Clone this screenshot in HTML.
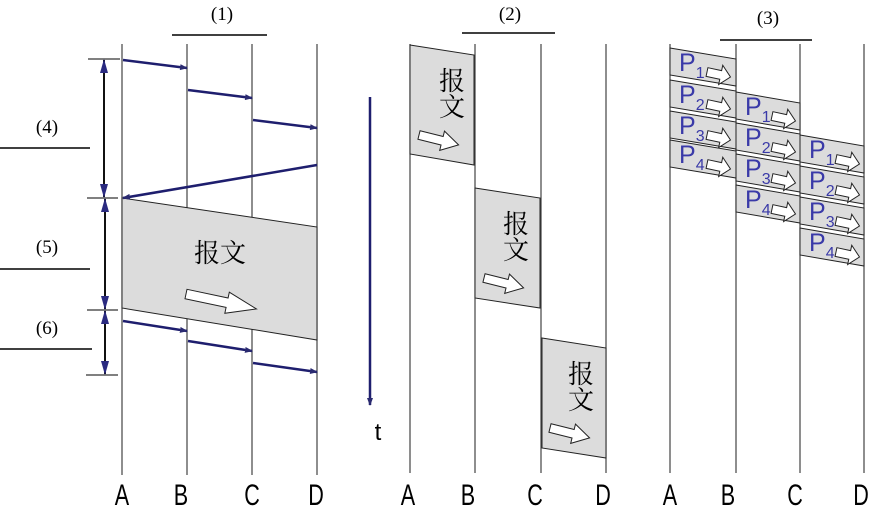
<!DOCTYPE html>
<html><head><meta charset="utf-8"><style>
html,body{margin:0;padding:0;background:#fff;width:885px;height:516px;overflow:hidden}
svg{display:block}
.t{font-family:"Liberation Serif",serif;font-size:19px}
.L{font-family:"Liberation Sans",sans-serif;font-size:30px}
.cj{font-family:"Liberation Serif","Noto Serif CJK SC","Noto Sans CJK SC",serif;font-size:26px}
.p{font-family:"Liberation Sans",sans-serif;fill:#3a3aa8}
</style></head><body>
<svg width="885" height="516" viewBox="0 0 885 516" xmlns="http://www.w3.org/2000/svg">
<defs>
<marker id="ah" markerWidth="8" markerHeight="6" refX="7" refY="3" orient="auto" markerUnits="userSpaceOnUse"><path d="M0,0 L8,3 L0,6 z" fill="#2a2a70"/></marker>
<marker id="dm" markerWidth="14" markerHeight="8" refX="13" refY="4" orient="auto-start-reverse" markerUnits="userSpaceOnUse"><path d="M0,0 L14,4 L0,8 z" fill="#2a2a80"/></marker>
<path id="wa" d="M0,-4 L14,-4 L14,-9 L24,0 L14,9 L14,4 L0,4 z" fill="#fff" stroke="#222" stroke-width="1" vector-effect="non-scaling-stroke"/>
</defs>
<g stroke="#444" stroke-width="1.2">
<line x1="122" y1="44" x2="122" y2="475"/><line x1="187" y1="44" x2="187" y2="475"/><line x1="252" y1="44" x2="252" y2="475"/><line x1="317" y1="44" x2="317" y2="475"/>
<line x1="410" y1="44" x2="410" y2="473"/><line x1="475" y1="44" x2="475" y2="473"/><line x1="541" y1="44" x2="541" y2="473"/><line x1="606" y1="44" x2="606" y2="473"/>
<line x1="670" y1="44" x2="670" y2="473"/><line x1="736" y1="44" x2="736" y2="473"/><line x1="800" y1="44" x2="800" y2="473"/><line x1="864" y1="44" x2="864" y2="473"/>
</g>
<g stroke="#000" stroke-width="1.5">
<line x1="172" y1="35" x2="267" y2="35"/><line x1="462" y1="33" x2="555" y2="33"/><line x1="720" y1="40" x2="812" y2="40"/>
<line x1="0" y1="148" x2="90" y2="148"/><line x1="0" y1="269" x2="90" y2="269"/><line x1="0" y1="349" x2="92" y2="349"/>
</g>
<g class="t"><text x="222" y="20" text-anchor="middle">(1)</text><text x="510" y="20" text-anchor="middle">(2)</text><text x="768" y="24" text-anchor="middle">(3)</text>
<text x="47" y="133" text-anchor="middle">(4)</text><text x="47" y="253" text-anchor="middle">(5)</text><text x="47" y="334" text-anchor="middle">(6)</text></g>
<g stroke="#000" stroke-width="1"><line x1="88" y1="59" x2="120" y2="59"/><line x1="87" y1="198" x2="118" y2="198"/><line x1="87" y1="310" x2="118" y2="310"/><line x1="86" y1="375" x2="118" y2="375"/></g>
<g stroke="#111" stroke-width="2">
<line x1="104" y1="60" x2="104" y2="197" marker-start="url(#dm)" marker-end="url(#dm)"/>
<line x1="105" y1="199" x2="105" y2="309" marker-start="url(#dm)" marker-end="url(#dm)"/>
<line x1="105" y1="311" x2="105" y2="374" marker-start="url(#dm)" marker-end="url(#dm)"/>
</g>
<polygon points="122,198 317,227 317,340 122,308" fill="#dcdcdc" stroke="#222" stroke-width="1"/>
<line x1="122" y1="198" x2="122" y2="308" stroke="#444" stroke-width="1.2"/>
<text class="cj" x="220" y="262" text-anchor="middle">报文</text>
<use href="#wa" transform="translate(186,294) rotate(12) scale(3,1.2)"/>
<g stroke="#1e1e6e" stroke-width="2.5" marker-end="url(#ah)">
<line x1="123" y1="60" x2="187" y2="68"/><line x1="188" y1="90" x2="252" y2="98"/><line x1="253" y1="120" x2="317" y2="128"/>
<line x1="317" y1="165" x2="123" y2="198"/>
<line x1="123" y1="321" x2="187" y2="331"/><line x1="188" y1="341" x2="252" y2="351"/><line x1="253" y1="363" x2="317" y2="372"/>
<line x1="370" y1="97" x2="370" y2="405"/>
</g>
<text x="378" y="440" font-family="Liberation Sans,sans-serif" font-size="24" text-anchor="middle">t</text>
<g fill="#dcdcdc" stroke="#222" stroke-width="1">
<polygon points="410,45 474,55 474,165 410,154"/><polygon points="475,188 540,198 540,308 475,298"/><polygon points="542,338 606,348 606,458 542,448"/>
</g>
<g class="cj" text-anchor="middle"><text x="452" y="90">报</text><text x="452" y="116">文</text>
<text x="516" y="233">报</text><text x="516" y="259">文</text>
<text x="581" y="383">报</text><text x="581" y="409">文</text></g>
<use href="#wa" transform="translate(419,135) rotate(14) scale(1.7,1.1)"/>
<use href="#wa" transform="translate(484,278) rotate(14) scale(1.7,1.1)"/>
<use href="#wa" transform="translate(550,428) rotate(14) scale(1.7,1.1)"/>
<g fill="#dcdcdc" stroke="#222" stroke-width="1">
<polygon points="670,48 736,59 736,86 670,75"/><polygon points="670,80 736,91 736,118 670,107"/><polygon points="670,111 736,122 736,149 670,138"/><polygon points="670,140 736,151 736,178 670,167"/>
<polygon points="736,92 800,103 800,130 736,119"/><polygon points="736,123 800,134 800,161 736,150"/><polygon points="736,154 800,165 800,192 736,181"/><polygon points="736,185 800,196 800,223 736,212"/>
<polygon points="800,135 864,146 864,173 800,162"/><polygon points="800,166 864,177 864,204 800,193"/><polygon points="800,197 864,208 864,235 800,224"/><polygon points="800,228 864,239 864,266 800,255"/>
</g>
<g class="p" font-size="25">
<text x="679" y="71">P<tspan font-size="16" dy="7">1</tspan></text><text x="679" y="103">P<tspan font-size="16" dy="7">2</tspan></text><text x="679" y="134">P<tspan font-size="16" dy="7">3</tspan></text><text x="679" y="163">P<tspan font-size="16" dy="7">4</tspan></text>
<text x="745" y="115">P<tspan font-size="16" dy="7">1</tspan></text><text x="745" y="146">P<tspan font-size="16" dy="7">2</tspan></text><text x="745" y="177">P<tspan font-size="16" dy="7">3</tspan></text><text x="745" y="208">P<tspan font-size="16" dy="7">4</tspan></text>
<text x="809" y="158">P<tspan font-size="16" dy="7">1</tspan></text><text x="809" y="189">P<tspan font-size="16" dy="7">2</tspan></text><text x="809" y="220">P<tspan font-size="16" dy="7">3</tspan></text><text x="809" y="251">P<tspan font-size="16" dy="7">4</tspan></text>
</g>
<g>
<use href="#wa" transform="translate(707,72) rotate(12) scale(1,1.1)"/><use href="#wa" transform="translate(707,104) rotate(12) scale(1,1.1)"/><use href="#wa" transform="translate(707,135) rotate(12) scale(1,1.1)"/><use href="#wa" transform="translate(707,164) rotate(12) scale(1,1.1)"/>
<use href="#wa" transform="translate(772,116) rotate(12) scale(1,1.1)"/><use href="#wa" transform="translate(772,147) rotate(12) scale(1,1.1)"/><use href="#wa" transform="translate(772,178) rotate(12) scale(1,1.1)"/><use href="#wa" transform="translate(772,209) rotate(12) scale(1,1.1)"/>
<use href="#wa" transform="translate(836,159) rotate(12) scale(1,1.1)"/><use href="#wa" transform="translate(836,190) rotate(12) scale(1,1.1)"/><use href="#wa" transform="translate(836,221) rotate(12) scale(1,1.1)"/><use href="#wa" transform="translate(836,252) rotate(12) scale(1,1.1)"/>
</g>
<g class="L" text-anchor="middle">
<text transform="translate(122,505) scale(0.72,1)">A</text><text transform="translate(181,505) scale(0.72,1)">B</text><text transform="translate(252,505) scale(0.72,1)">C</text><text transform="translate(316,505) scale(0.72,1)">D</text>
<text transform="translate(408,505) scale(0.72,1)">A</text><text transform="translate(468,505) scale(0.72,1)">B</text><text transform="translate(535,505) scale(0.72,1)">C</text><text transform="translate(603,505) scale(0.72,1)">D</text>
<text transform="translate(670,505) scale(0.72,1)">A</text><text transform="translate(728,505) scale(0.72,1)">B</text><text transform="translate(795,505) scale(0.72,1)">C</text><text transform="translate(861,505) scale(0.72,1)">D</text>
</g>
</svg>
</body></html>
